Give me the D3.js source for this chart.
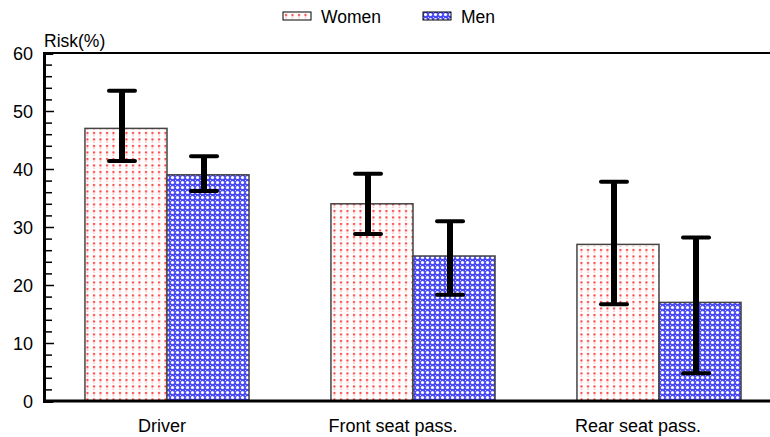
<!DOCTYPE html>
<meta charset="utf-8">
<style>
  body { margin: 0; background: #fff; }
  text { font-family: "Liberation Sans", Arial, sans-serif; fill: #000; }
</style>
<svg width="770" height="437"></svg>
<script src="https://d3js.org/d3.v7.min.js"></script>
<script>

var categories = ['Driver', 'Front seat pass.', 'Rear seat pass.']
var seriesNames = ['Women', 'Men']
var women = [47, 34, 27]
var men = [39, 25, 17]
var womenLow = [41.4, 28.8, 16.7]
var womenHigh = [53.5, 39.2, 37.8]
var menLow = [36.2, 18.3, 4.8]
var menHigh = [42.2, 31, 28.2]
var yTicks = [0, 10, 20, 30, 40, 50, 60]

// labels are not quite centred under their groups in the original
var labelShift = [-5, -20, -21]

var svg = d3.select('svg')
var defs = svg.append('defs')

// red dotted fill
var pw = defs.append('pattern').attr('id', 'dots').attr('patternUnits', 'userSpaceOnUse')
  .attr('width', 6.5).attr('height', 6.5)
pw.append('rect').attr('width', 6.5).attr('height', 6.5).attr('fill', '#fff')
pw.append('rect').attr('x', 2).attr('y', 2).attr('width', 2).attr('height', 2).attr('fill', '#ff2a2a')
pw.append('rect').attr('x', 2.2).attr('y', 5.3).attr('width', 1.6).attr('height', 0.9).attr('fill', '#f99')

// blue crosshatch fill
var pm = defs.append('pattern').attr('id', 'hatch').attr('patternUnits', 'userSpaceOnUse')
  .attr('width', 5).attr('height', 5)
pm.append('rect').attr('width', 5).attr('height', 5).attr('fill', '#4a4af5')
pm.append('circle').attr('cx', 2.5).attr('cy', 2.5).attr('r', 1.6).attr('fill', '#fff')
pm.append('rect').attr('x', 0).attr('y', 0).attr('width', 1).attr('height', 1).attr('fill', '#d0d0ff')

var fills = ['url(#dots)', 'url(#hatch)']

var x0 = d3.scaleBand().domain(categories).range([44, 782]).paddingInner(0.333).paddingOuter(0.1665)
var x1 = d3.scaleBand().domain(seriesNames).range([0, x0.bandwidth()])
var y = d3.scaleLinear().domain([0, 60]).range([401, 53])

var rows = categories.map(function (c, i) {
  return [
    { cat: c, s: 'Women', v: women[i], lo: womenLow[i], hi: womenHigh[i] },
    { cat: c, s: 'Men', v: men[i], lo: menLow[i], hi: menHigh[i] }
  ]
})
var flat = [].concat.apply([], rows)

// bars
svg.append('g').selectAll('rect').data(flat).enter().append('rect')
  .attr('x', function (d) { return x0(d.cat) + x1(d.s) })
  .attr('y', function (d) { return y(d.v) })
  .attr('width', x1.bandwidth())
  .attr('height', function (d) { return y(0) - y(d.v) })
  .attr('fill', function (d) { return fills[seriesNames.indexOf(d.s)] })
  .attr('stroke', '#444').attr('stroke-width', 1.5)

// error bars
var eb = svg.append('g').selectAll('g').data(flat).enter().append('g')
  .attr('transform', function (d) { return 'translate(' + (x0(d.cat) + x1(d.s) + x1.bandwidth() / 2 - 4) + ',0)' })
eb.append('line').attr('x1', 0).attr('x2', 0)
  .attr('y1', function (d) { return y(d.lo) }).attr('y2', function (d) { return y(d.hi) })
  .attr('stroke', '#000').attr('stroke-width', 6)
eb.selectAll('.cap').data(function (d) { return [d.lo, d.hi] }).enter().append('line')
  .attr('x1', -13).attr('x2', 13)
  .attr('y1', function (v) { return y(v) }).attr('y2', function (v) { return y(v) })
  .attr('stroke', '#000').attr('stroke-width', 4).attr('stroke-linecap', 'round')

// frame lines
svg.append('line').attr('x1', 44).attr('x2', 770).attr('y1', 53).attr('y2', 53)
  .attr('stroke', '#000').attr('stroke-width', 2)
svg.append('line').attr('x1', 44).attr('x2', 770).attr('y1', 401).attr('y2', 401)
  .attr('stroke', '#000').attr('stroke-width', 3)

// y axis with inward ticks
var yAxis = svg.append('g').attr('transform', 'translate(44,0)')
  .call(d3.axisLeft(y).tickValues(d3.range(0, 61, 2)).tickSize(-9).tickFormat(''))
yAxis.select('.domain').attr('stroke-width', 3)
yAxis.selectAll('.tick line').attr('stroke-width', 1.5)
  .attr('x2', function (d) { return d % 10 === 0 ? 10 : 8 })
svg.append('g').selectAll('text').data(yTicks).enter().append('text')
  .attr('x', 33).attr('y', function (d) { return y(d) + 7 })
  .attr('text-anchor', 'end').attr('font-size', 18).text(function (d) { return d })

svg.append('text').attr('x', 44).attr('y', 47).attr('font-size', 17.5).text('Risk(%)')

// category labels
svg.append('g').selectAll('text').data(categories).enter().append('text')
  .attr('x', function (c, i) { return x0(c) + x0.bandwidth() / 2 + labelShift[i] })
  .attr('y', 432).attr('text-anchor', 'middle').attr('font-size', 18)
  .text(function (c) { return c })

// legend
var legX = [283, 423]
var leg = svg.append('g').selectAll('g').data(seriesNames).enter().append('g')
  .attr('transform', function (d, i) { return 'translate(' + legX[i] + ',12)' })
leg.append('rect').attr('width', 28).attr('height', 8)
  .attr('fill', function (d, i) { return fills[i] }).attr('stroke', '#000').attr('stroke-width', 1)
leg.append('text').attr('x', 38).attr('y', 11).attr('font-size', 17.5).text(function (d) { return d })
</script>
